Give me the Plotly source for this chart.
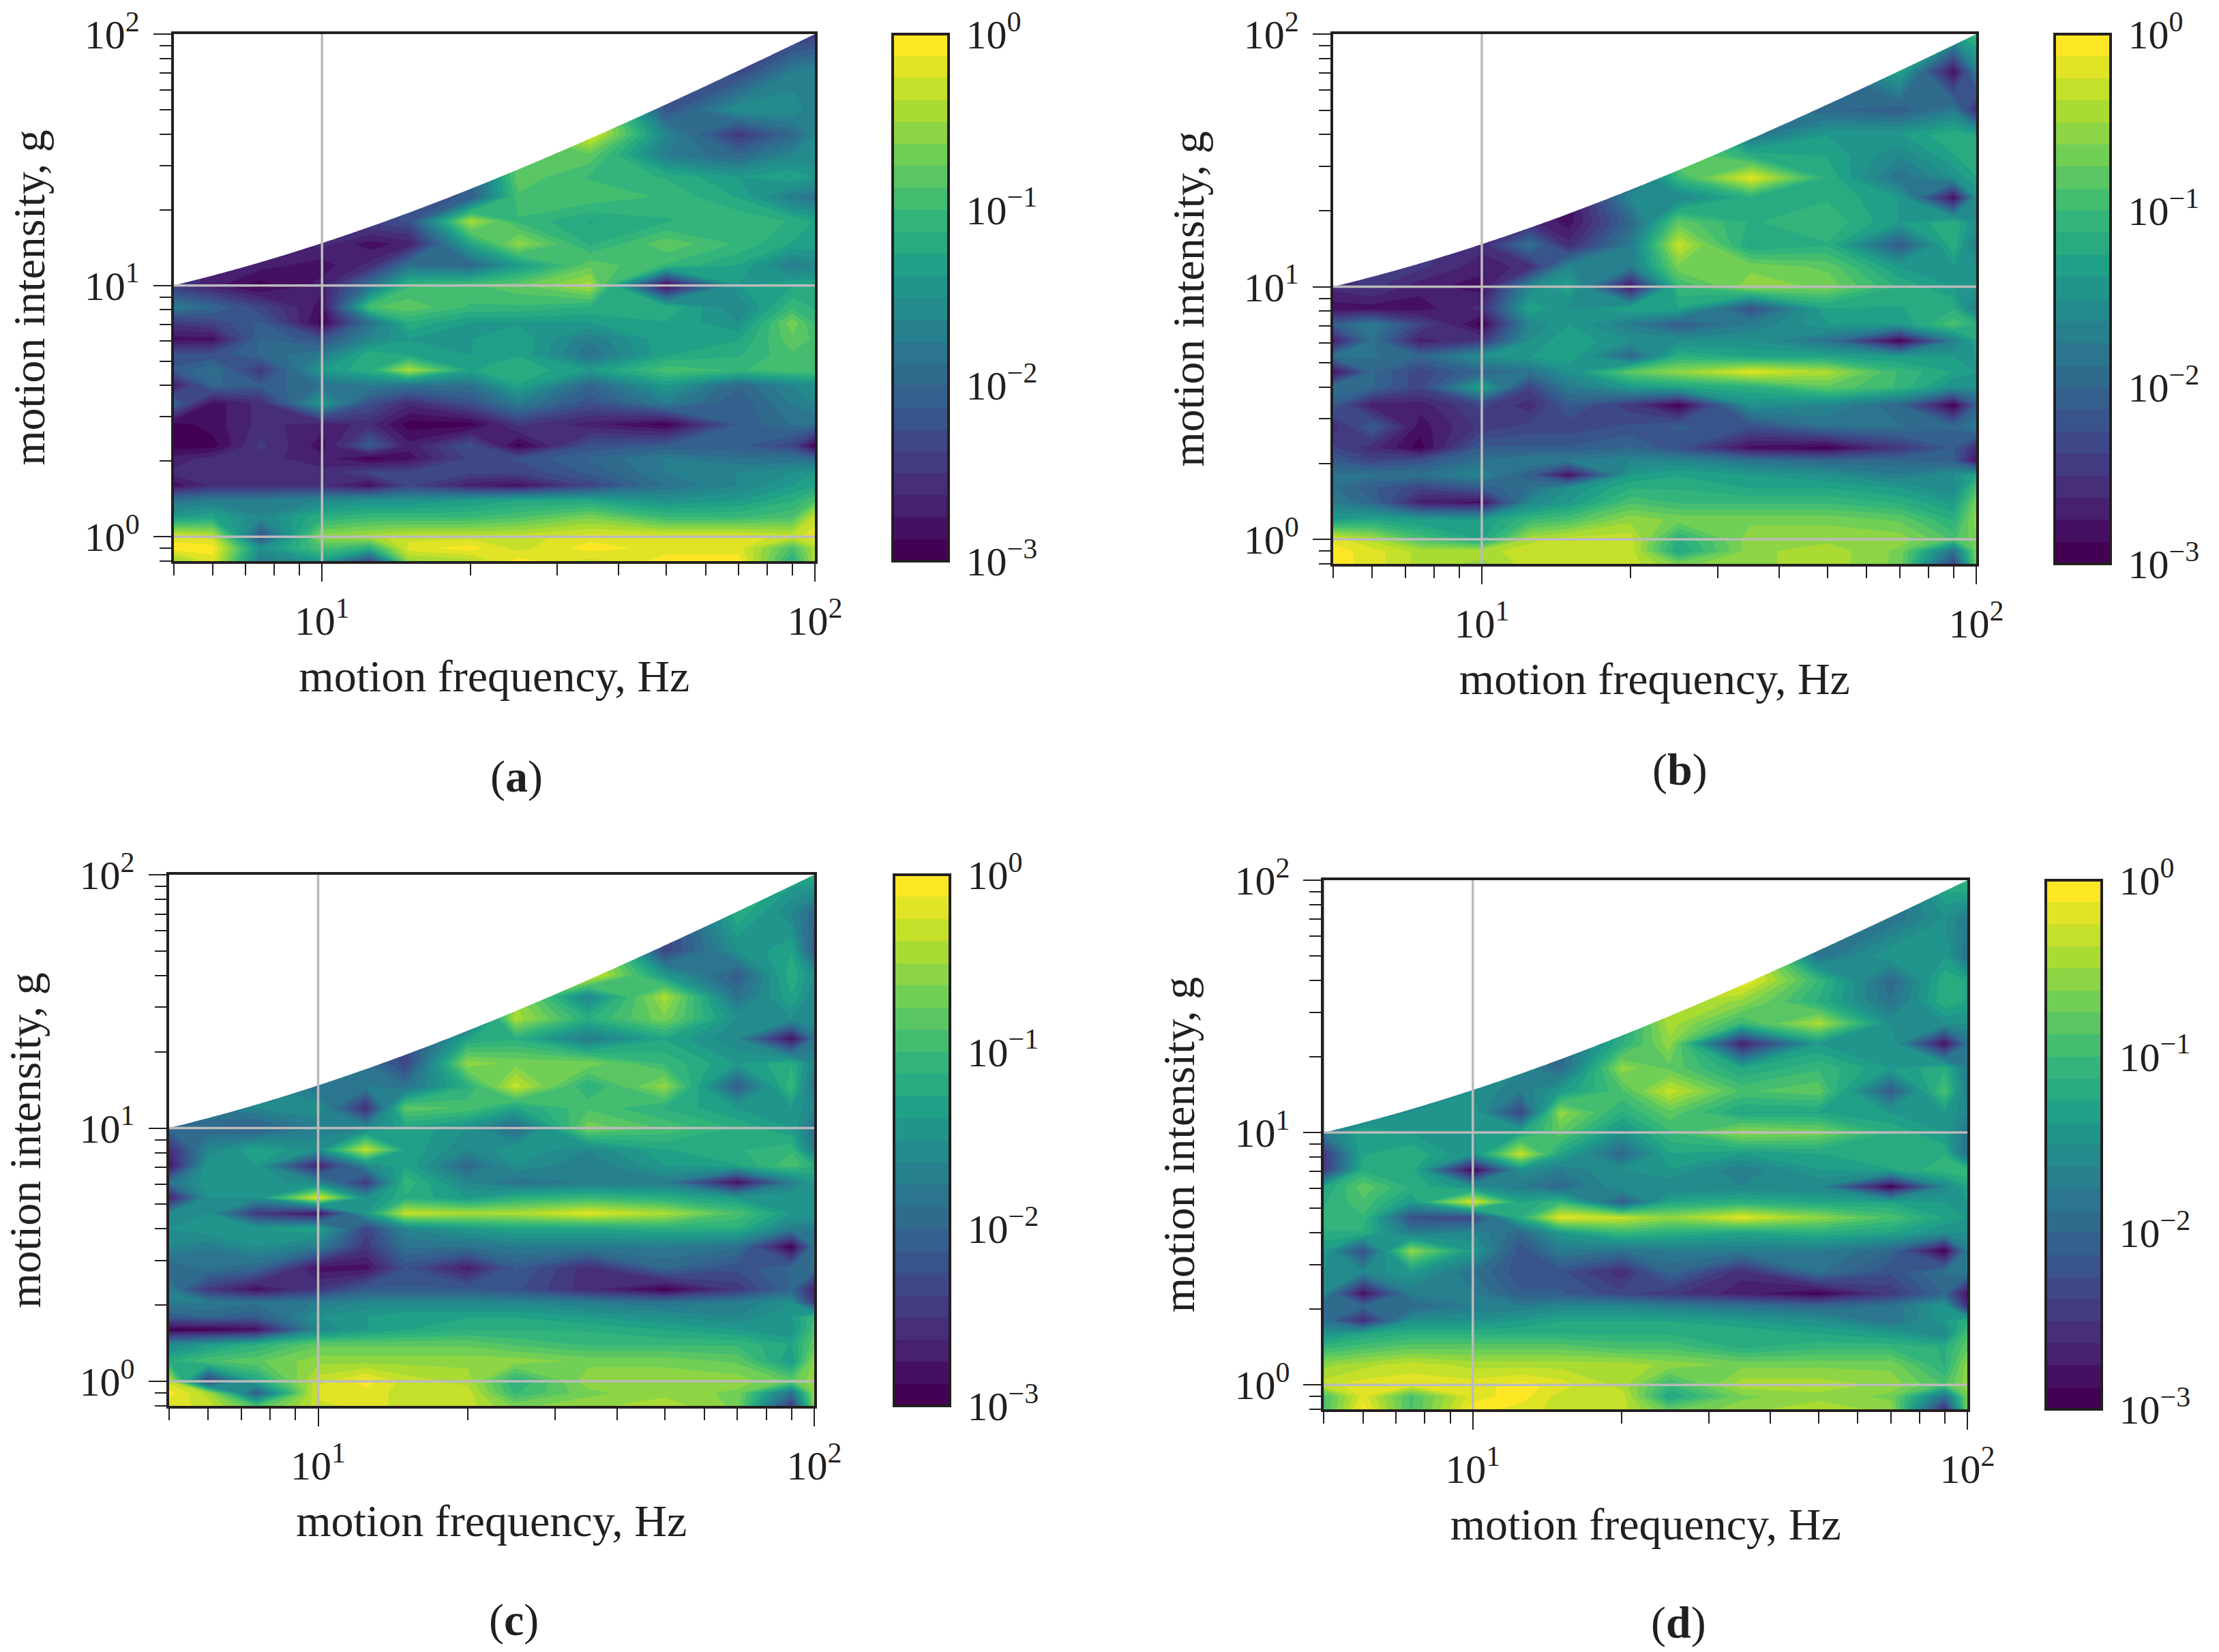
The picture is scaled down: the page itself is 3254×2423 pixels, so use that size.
import numpy as np
import plotly.colors as pc
import plotly.graph_objects as go

_ = None
FREQ_HZ = [5, 6, 7.5, 10, 12.5, 15, 20, 25, 35, 50, 70, 90, 100]
INTENSITY_G = [0.8, 0.9, 1, 1.2, 1.4, 1.6, 1.8, 2.05, 2.3, 2.8, 3.4, 4, 4.6, 5.3, 6.1, 7.1, 8.2,
               10, 12, 14.6, 18, 22.5, 27, 33, 40, 50, 71, 100]

LEVELS_A = [
 [20,23,10,13, 5,20,21,24,22,24,24,15,21],
 [24,24,12,17,15,23,24,22,24,23,23,17,21],
 [23,22, 6,20,21,22,22,22,23,23,23,22,23],
 [13,14,11,15,16,16,16,17,19,16,16,17,22],
 [ 9,10,10,11,12,12,13,14,14,12,13,15,17],
 [ 1, 3, 3, 3, 1, 5, 2, 1, 5, 9,11,13,14],
 [ 3, 3, 3, 3, 5, 5, 5, 5, 7,10,11,12,13],
 [ 2, 3, 3, 2, 0, 1, 5, 6, 8,10, 9, 9, 8],
 [ 0, 0, 4, 1, 7, 2, 6, 0, 6, 7, 7, 5, 0],
 [ 0, 1, 3, 2, 3, 0, 0, 4, 2, 0, 7, 9, 9],
 [ 8, 1, 3,13, 6, 3, 6,10, 6,10, 7,10,11],
 [ 2, 8, 7, 9,10, 9, 9,14, 8,13, 8,11,12],
 [ 7, 9, 4,13,15,21,14,15,13,17,16,17,17],
 [ 6, 6, 8,10,15,14,13,14, 9,14,15,17,17],
 [ 1, 1, 8, 6,11,13,13,14,10,14,14,18,17],
 [ 4, 5, 7, 0, 9,15,13,13,13,14,12,19,16],
 [10, 8, 5, 1,17,18,16,16,15,15,11,16,15],
 [ 4, 2, 0, 2, 9,16,17,18,21, 0,13,14,14],
 [ _, 2, 2, 1, 3, 9, 8,13,18,16,14,10,11],
 [ _, _, _, 3, 1, 2,14,20,15,18,16,14,14],
 [ _, _, _, _, 5, 6,21,16,14,15,16,15,14],
 [ _, _, _, _, _, _, 7,17,17,16,14,10, 9],
 [ _, _, _, _, _, _, _,18,16,15,13,14,13],
 [ _, _, _, _, _, _, _, _,18,10, 8,11,11],
 [ _, _, _, _, _, _, _, _,23,11, 4, 8,11],
 [ _, _, _, _, _, _, _, _, _, 6,12,12,10],
 [ _, _, _, _, _, _, _, _, _, _, 5,10,11],
 [ _, _, _, _, _, _, _, _, _, _, _, 4, 4],
]
LEVELS_B = [
 [24,23,21,20,22,22,22,19,20,21,19, 5,19],
 [24,23,21,21,22,22,22,14,20,21,19, 9,19],
 [23,21,17,14,21,22,22,15,20,20,20,17,19],
 [13,14,13,13,16,17,20,19,19,19,18,15,20],
 [10, 8, 2, 1,11,13,17,16,16,16,15,13,19],
 [ 9, 7, 5, 7, 9,12,15,15,14,14,13,11,17],
 [ 9, 9, 9,11, 7, 1,13,14,13,12,10,12,14],
 [ 7, 5, 6, 9,10,10,11,11, 9, 8, 8, 7, 1],
 [ 5, 3, 0, 7, 7, 7, 8, 6, 1, 0, 4, 7, 3],
 [ 3, 7, 1, 4, 5, 5, 6, 7, 6, 9, 9, 8,10],
 [ 7, 2, 2, 5, 3, 7, 4, 0,12,11, 8, 0, 7],
 [ 9, 8, 5,14, 5,10,13,14,15,18,16,12,12],
 [ 1, 8, 5, 8, 9,12,18,20,23,21,16,14,13],
 [ 9, 9, 8,12,13,14, 8,15,14,14,13,13,13],
 [ 2, 9, 2, 4,12,14,12,12,12, 9, 0,10,14],
 [ 7,10, 5, 0,11,13,10, 7,10,13,13,17,15],
 [ 1, 1, 1, 3,14,12,14,14, 6,14,14,15,10],
 [ 3, 4, 2, 1,11,14, 1,16,20,19,15,13,12],
 [ _, _, 4, 2, 3,11,10,19,19,18,13,13,12],
 [ _, _, _, 3, 9, 3,10,22,14,15, 7,15,10],
 [ _, _, _, _, 3, 1, 8,18,15,16,13,15,12],
 [ _, _, _, _, _, 1,11,11,15,15,13, 1,12],
 [ _, _, _, _, _, _, 8,16,23,15, 9,12,14],
 [ _, _, _, _, _, _, _,19,15,14,11,14,15],
 [ _, _, _, _, _, _, _, _, 9,13,13,15,14],
 [ _, _, _, _, _, _, _, _, _, 8, 7,10, 3],
 [ _, _, _, _, _, _, _, _, _, _,14, 1,10],
 [ _, _, _, _, _, _, _, _, _, _, _,14,16],
]
LEVELS_C = [
 [23,22,17,22,23,22,22,19,20,21,19, 4,20],
 [24,21, 7,23,23,22,22,16,19,20,19, 9,20],
 [22, 4,14,22,24,22,21,15,20,20,20,18,20],
 [15,17,18,20,20,20,20,20,19,19,18,13,20],
 [11,13,15,18,18,18,18,17,16,16,16,14,18],
 [ 0, 0, 1,11,13,14,15,15,15,14,13,12,17],
 [ 7, 8, 7,12,13,14,14,14,13,12,11,13,16],
 [10,10, 9,10,11,11,11,11,10, 9,10,12, 4],
 [10, 4, 1, 4, 7, 7, 7, 6, 3, 0, 4, 8, 2],
 [ 8, 9, 8, 1, 1, 6, 2, 7, 3, 8, 6, 8, 9],
 [11,10,12,10, 4, 9, 9,10,10,10, 9, 0, 9],
 [12,13,13,14, 5,11,13,14,14,15,15,10,10],
 [11,12, 4, 1,13,22,21,21,23,21,17,13,13],
 [ 2,12,12,23,12,15,13,15,16,15,13,13,13],
 [ 9,13,13,11, 4,16,11, 9,10,10, 1,10,13],
 [ 1,13,13, 2,11,14, 8,12,10,13,14,17,15],
 [ 3,11,14,12,22,14,11,13,11,14,15,16,10],
 [ 8, 8, 7,10,11,14,12, 8,19,17,15,13, 9],
 [ _,10,11,12, 3,18,17,14,17,15,13,13,11],
 [ _, _, _, 9,10, 9,15,22,15,20, 7,16, 9],
 [ _, _, _, _, 9, 5,20,19,19,16,13,15,11],
 [ _, _, _, _, _, _,14,15,10,14,11, 1, 9],
 [ _, _, _, _, _, _, 6,21,15,19,12,12,12],
 [ _, _, _, _, _, _, _,20,11,21, 9,14,11],
 [ _, _, _, _, _, _, _, _,23,13, 7,15,12],
 [ _, _, _, _, _, _, _, _, _, 5,12,14, 7],
 [ _, _, _, _, _, _, _, _, _, _,15,11, 8],
 [ _, _, _, _, _, _, _, _, _, _, _,14,15],
]
LEVELS_D = [
 [17,24,17,24,23,22,22,18,20,21,20, 3,19],
 [17,23,17,23,24,22,22,14,19,20,19, 9,19],
 [22,23,23,23,24,23,21,16,21,21,20,17,20],
 [20,21,22,21,21,21,21,20,19,19,19,15,20],
 [16,17,18,18,18,18,17,17,15,16,16,15,18],
 [12,14,15,15,15,15,15,15,15,14,13,11,17],
 [ 9, 3,12,12,13,14,14,14,13,12, 9,13,15],
 [ 8, 8, 8,10,10,11,11,10, 9, 8, 9,13, 3],
 [11, 1,10,10, 7, 7, 5, 4, 2, 0, 4, 8, 1],
 [12,11,13, 9, 6, 6, 3, 8, 3, 9, 6, 9,10],
 [13, 6,20,13, 6,10, 9,10,10,10, 8, 0,10],
 [15,15,10,11, 8,13,16,15,14,15,14,12,12],
 [16,16, 6, 5,15,23,22,20,23,20,17,14,13],
 [15,17,13,23,14,16, 7,14,15,14,14,13,13],
 [14,18,15,12,10, 8,12,11,11,11, 0,11,14],
 [ 4,15,15, 0,12,10,12,13,10,13,14,16,16],
 [ 4,14,15,12,22,14, 8,14,13,14,15,15, 9],
 [10,14,13,13,14,18,12,16,20,19,15,13, 9],
 [ _,10,12,13, 5,20,15,18,14,14,13,13,11],
 [ _, _, _,12,10,13,17,22,17,18, 7,17,10],
 [ _, _, _, _,11, 8,20,18,14,16,13,15,10],
 [ _, _, _, _, _, _,15,20, 2,13,13, 1, 9],
 [ _, _, _, _, _, _,14,21,16,21,12,12,12],
 [ _, _, _, _, _, _, _,22,20,15, 9,15,14],
 [ _, _, _, _, _, _, _, _,24,16, 8,15,14],
 [ _, _, _, _, _, _, _, _, _, 9,13,13, 9],
 [ _, _, _, _, _, _, _, _, _, _, 9,12,10],
 [ _, _, _, _, _, _, _, _, _, _, _,15,16],
]

X_TICKS = [10, 100]
X_TICK_TEXT = ["10<sup>1</sup>", "10<sup>2</sup>"]
X_MINOR = [5, 6, 7, 8, 9, 20, 30, 40, 50, 60, 70, 80, 90]
Y_TICKS = [1, 10, 100]
Y_TICK_TEXT = ["10<sup>0</sup>", "10<sup>1</sup>", "10<sup>2</sup>"]
Y_MINOR = [0.8, 0.9, 2, 3, 4, 5, 6, 7, 8, 9, 20, 30, 40, 50, 60, 70, 80, 90]
CBAR_TICKS = [-3, -2, -1, 0]
CBAR_TEXT = ["10<sup>−3</sup>", "10<sup>−2</sup>", "10<sup>−1</sup>", "10<sup>0</sup>"]
PANEL_NAMES = ["a", "b", "c", "d"]
X_TITLE = "motion frequency, Hz"
Y_TITLE = "motion intensity, g"

W, H = 3254, 2423
INK = "#231f20"
FONT = "Liberation Serif"
# pixel boxes: plot (l, r, t, b), colorbar (l, r), label centre (x, y)
BOXES = [
    dict(p=(254.7, 1195, 50, 823), c=(1309, 1391), lab=(757, 1139)),
    dict(p=(1954.7, 2898, 50, 827), c=(3013, 3095), lab=(2463, 1129)),
    dict(p=(247.5, 1194, 1283, 2062), c=(1311, 1393), lab=(753, 2376)),
    dict(p=(1941.4, 2885, 1291, 2067), c=(3000, 3082), lab=(2461, 2380)),
]

# 24 bands from the first to the last Viridis colour; plotly fills each band with its midpoint colour
BAND_COLOURS = pc.sample_colorscale("Viridis", list(np.linspace(0, 1, 24)))
COLORSCALE = ([[0, BAND_COLOURS[0]]]
              + [[(i + 0.5) / 24, c] for i, c in enumerate(BAND_COLOURS)]
              + [[1, BAND_COLOURS[-1]]])


def to_log10(levels):
    """Level table to log10 amplitude; cells beyond the envelope repeat the cell below (masked later)."""
    a = np.array(levels, dtype=float)
    for j in range(a.shape[1]):
        for i in range(1, a.shape[0]):
            if np.isnan(a[i, j]):
                a[i, j] = a[i - 1, j]
    return (a / 24 * 23 + 0.5) / 8 - 3


fig = go.Figure()
layout = dict(
    width=W, height=H, paper_bgcolor="white", plot_bgcolor="white", showlegend=False,
    margin=dict(l=0, r=0, t=0, b=0, autoexpand=False),
    font=dict(family=FONT, color=INK), annotations=[],
)

env_x = np.geomspace(5, 100, 240)
env_y = 10 + (env_x - 5) * 90 / 95

for k, (levels, box) in enumerate(zip([LEVELS_A, LEVELS_B, LEVELS_C, LEVELS_D], BOXES)):
    suffix = "" if k == 0 else str(k + 1)
    xa, ya = "x" + suffix, "y" + suffix
    l, r, t, b = box["p"]
    fig.add_trace(go.Contour(
        x=FREQ_HZ, y=INTENSITY_G, z=to_log10(levels), xaxis=xa, yaxis=ya,
        colorscale=COLORSCALE, zauto=False, zmin=-3, zmax=0, autocontour=False,
        contours=dict(start=-3, end=0, size=0.125, coloring="fill", showlines=False),
        line=dict(width=0, smoothing=0), hoverinfo="skip",
        colorbar=dict(
            x=box["c"][0] / W, xanchor="left", xpad=0, ypad=0,
            y=1 - b / H, yanchor="bottom", len=(b - t) / H, lenmode="fraction",
            thickness=box["c"][1] - box["c"][0], thicknessmode="pixels",
            outlinewidth=4, outlinecolor=INK, borderwidth=0,
            tickmode="array", tickvals=CBAR_TICKS, ticktext=CBAR_TEXT,
            ticks="outside", ticklen=12, tickcolor="rgba(0,0,0,0)",
            tickfont=dict(family=FONT, size=60, color=INK),
        ),
    ))
    fig.add_trace(go.Scatter(
        x=list(env_x) + [5], y=list(env_y) + [100], xaxis=xa, yaxis=ya,
        mode="none", fill="toself", fillcolor="white", hoverinfo="skip",
    ))
    for gx, gy in [([10, 10], [0.8, 100]), ([5, 100], [1, 1]), ([5, 100], [10, 10])]:
        fig.add_trace(go.Scatter(
            x=gx, y=gy, xaxis=xa, yaxis=ya, mode="lines",
            line=dict(color="#bbbbbb", width=3.5), hoverinfo="skip",
        ))
    common = dict(
        type="log", showgrid=False, zeroline=False, showline=True, mirror=True,
        linecolor=INK, linewidth=4, ticks="outside", ticklen=26, tickwidth=1.5, tickcolor=INK,
        tickmode="array", tickfont=dict(family=FONT, size=60, color=INK), layer="above traces",
    )
    layout["xaxis" + suffix] = dict(
        common, domain=[l / W, r / W], anchor=ya, range=[np.log10(5), 2],
        tickvals=X_TICKS, ticktext=X_TICK_TEXT, ticklabelstandoff=6,
        minor=dict(tickmode="array", tickvals=X_MINOR, ticks="outside", ticklen=17,
                   tickwidth=1.5, tickcolor=INK),
        title=dict(text=X_TITLE, font=dict(family=FONT, size=66, color=INK), standoff=26),
    )
    layout["yaxis" + suffix] = dict(
        common, domain=[1 - b / H, 1 - t / H], anchor=xa, range=[np.log10(0.8), 2],
        tickvals=Y_TICKS, ticktext=Y_TICK_TEXT, ticklabelstandoff=8,
        minor=dict(tickmode="array", tickvals=Y_MINOR, ticks="outside", ticklen=17,
                   tickwidth=1.5, tickcolor=INK),
        title=dict(text=Y_TITLE, font=dict(family=FONT, size=66, color=INK), standoff=38),
    )
    layout["annotations"].append(dict(
        x=box["lab"][0] / W, y=1 - box["lab"][1] / H, xref="paper", yref="paper",
        text=f"(<b>{PANEL_NAMES[k]}</b>)", showarrow=False, xanchor="center", yanchor="middle",
        font=dict(family=FONT, size=66, color=INK),
    ))

fig.update_layout(**layout)
fig.write_html("out.html", config={"displayModeBar": False},
               post_script="document.body.style.margin='0';")
